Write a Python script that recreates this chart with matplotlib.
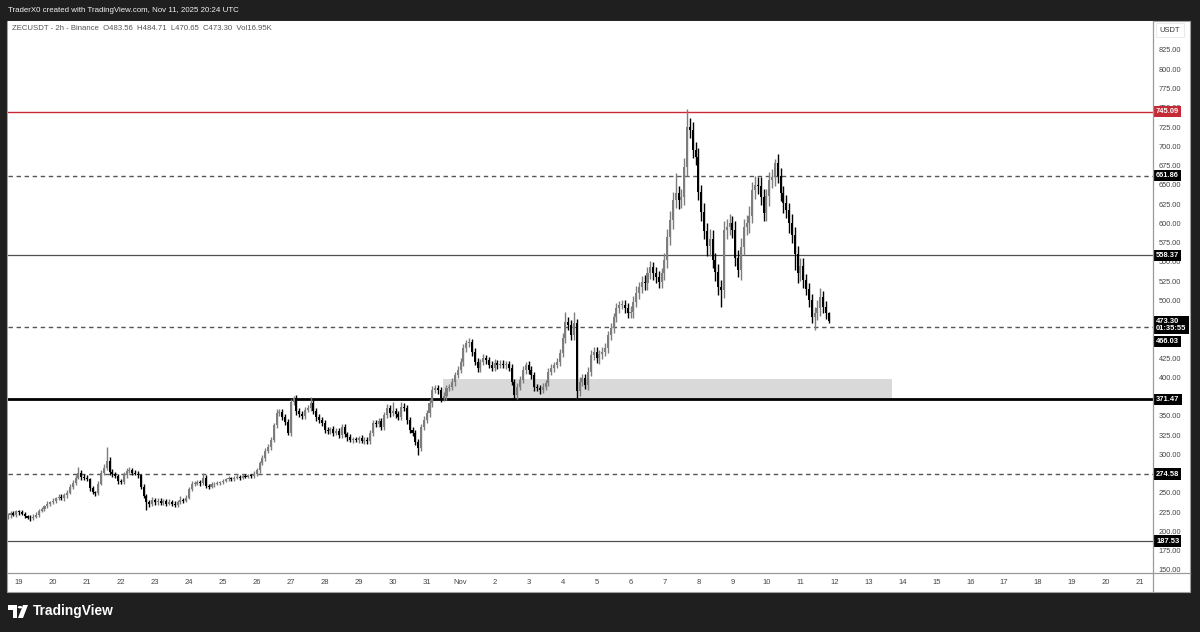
import matplotlib
matplotlib.use('Agg')
import matplotlib.pyplot as plt
import matplotlib.dates as mdates
from matplotlib.patches import Rectangle, Circle, Polygon
from matplotlib.lines import Line2D
import numpy as np
import pandas as pd
from matplotlib import font_manager

_names = {f.name for f in font_manager.fontManager.ttflist}
_fams = [f for f in ['Liberation Sans Narrow', 'Liberation Sans', 'DejaVu Sans'] if f in _names]
plt.rcParams['font.family'] = _fams
NARROW = 'Liberation Sans Narrow' in _names

# ---------------- data ----------------
symbol_line = "ZECUSDT - 2h - Binance  O483.56  H484.71  L470.65  C473.30  Vol16.95K"
header_line = "TraderX0 created with TradingView.com, Nov 11, 2025 20:24 UTC"
first_time = '2025-10-18 16:00'
first_open = 219.0

closes = [
    221, 224, 222, 226,                                             # Oct 18
    225, 223, 220, 218, 217, 219, 222, 227, 229, 233, 236, 238,     # Oct 19
    240, 243, 245, 244, 247, 250, 258, 263, 270, 276, 271, 270,     # Oct 20
    268, 256, 251, 250, 262, 276, 283, 292, 277, 274, 272, 265,     # Oct 21
    264, 273, 279, 280, 276, 275, 273, 258, 246, 238, 236, 241,     # Oct 22
    238, 240, 237, 239, 236, 238, 236, 235, 238, 241, 240, 244,     # Oct 23
    255, 262, 262, 264, 263, 270, 259, 258, 261, 262, 263, 264,     # Oct 24
    266, 268, 269, 268, 270, 271, 270, 272, 271, 273, 272, 275,     # Oct 25
    280, 289, 295, 305, 310, 319, 338, 354, 355, 349, 342, 328,     # Oct 26
    368, 373, 356, 352, 350, 358, 360, 367, 356, 348, 345, 341,     # Oct 27
    332, 330, 333, 328, 330, 325, 336, 326, 322, 319, 320, 319,     # Oct 28
    321, 318, 319, 317, 328, 341, 340, 343, 336, 351, 360, 354,     # Oct 29
    356, 352, 349, 362, 360, 345, 332, 328, 316, 308, 336, 345,     # Oct 30
    354, 367, 384, 386, 384, 373, 376, 386, 387, 394, 403, 410,     # Oct 31
    420, 438, 445, 446, 433, 420, 412, 420, 425, 423, 416, 412,     # Nov 1
    419, 416, 418, 416, 417, 412, 394, 377, 388, 397, 410, 416,     # Nov 2
    410, 403, 387, 386, 384, 388, 393, 407, 412, 416, 420, 432,     # Nov 3
    451, 472, 468, 455, 471, 382, 394, 399, 390, 407, 429, 433,     # Nov 4
    425, 430, 433, 438, 455, 464, 478, 490, 494, 494, 490, 484,     # Nov 5
    485, 498, 510, 517, 524, 522, 535, 543, 535, 530, 524, 535,     # Nov 6
    552, 582, 604, 630, 639, 630, 634, 673, 725, 721, 695, 686,     # Nov 7
    640, 615, 590, 570, 580, 552, 537, 517, 513, 591, 595, 600,     # Nov 8
    591, 555, 539, 569, 595, 600, 610, 643, 650, 648, 634, 613,     # Nov 9
    635, 656, 660, 678, 662, 639, 626, 617, 600, 585, 560, 535,     # Nov 10
    545, 526, 515, 500, 478, 483, 490, 504, 491, 483.56, 473.30,    # Nov 11
]

upper_wick = [
    3, 2, 3, 2,
    2, 3, 2, 2, 3, 4, 3, 2, 3, 2, 3, 2,
    3, 2, 3, 4, 3, 4, 3, 4, 3, 8, 4, 3,
    3, 2, 3, 2, 3, 4, 4, 18, 5, 4, 3, 3,
    3, 4, 3, 4, 3, 4, 3, 2, 3, 3, 3, 4,
    3, 3, 4, 3, 3, 4, 3, 3, 3, 5, 3, 3,
    3, 3, 4, 3, 3, 6, 3, 3, 3, 2, 3, 2,
    2, 2, 3, 2, 2, 3, 2, 2, 3, 2, 2, 3,
    3, 3, 4, 3, 4, 4, 3, 5, 4, 4, 3, 4,
    4, 3, 4, 4, 4, 4, 4, 8, 4, 4, 4, 3,
    4, 4, 3, 4, 4, 4, 4, 4, 3, 4, 3, 3,
    3, 4, 3, 3, 4, 4, 4, 4, 4, 4, 5, 4,
    12, 4, 5, 6, 5, 4, 4, 4, 4, 4, 4, 5,
    4, 5, 5, 4, 4, 4, 5, 4, 4, 5, 4, 5,
    5, 5, 4, 5, 4, 5, 5, 4, 5, 4, 4, 5,
    5, 4, 4, 5, 4, 4, 5, 4, 5, 5, 5, 4,
    5, 5, 4, 5, 4, 5, 4, 5, 5, 4, 5, 5,
    6, 13, 6, 6, 14, 5, 6, 6, 5, 6, 6, 6,
    6, 5, 7, 6, 5, 7, 6, 6, 5, 7, 6, 6,
    8, 7, 8, 7, 8, 9, 8, 8, 7, 8, 8, 7,
    10, 10, 12, 10, 26, 10, 10, 12, 23, 12, 10, 10,
    12, 10, 12, 10, 12, 11, 10, 10, 10, 12, 10, 12,
    10, 12, 10, 12, 10, 11, 12, 10, 12, 10, 12, 10,
    10, 11, 10, 6, 12, 10, 10, 11, 10, 12, 10, 10,
    10, 10, 8, 8, 8, 8, 10, 12, 8, 8, 1.15,
]

lower_wick = [
    3, 4, 2, 3,
    3, 2, 3, 2, 3, 2, 2, 3, 2, 3, 2, 3,
    2, 3, 2, 3, 4, 3, 2, 3, 3, 2, 4, 3,
    3, 4, 3, 4, 3, 2, 3, 3, 4, 3, 3, 4,
    3, 2, 3, 3, 3, 2, 3, 3, 3, 10, 4, 3,
    3, 3, 2, 3, 3, 2, 3, 3, 3, 2, 3, 2,
    2, 3, 3, 2, 4, 3, 3, 3, 2, 3, 2, 3,
    2, 2, 2, 3, 2, 2, 3, 2, 2, 2, 3, 2,
    3, 4, 3, 4, 3, 4, 3, 4, 4, 4, 4, 3,
    4, 4, 5, 4, 4, 4, 3, 4, 4, 4, 4, 4,
    4, 3, 4, 4, 3, 4, 4, 4, 4, 3, 4, 3,
    4, 3, 4, 3, 3, 4, 4, 4, 4, 4, 4, 5,
    4, 5, 4, 4, 4, 5, 4, 4, 4, 9, 4, 4,
    4, 5, 5, 4, 5, 5, 4, 5, 4, 4, 5, 4,
    4, 5, 5, 5, 5, 4, 5, 5, 4, 5, 4, 4,
    4, 5, 4, 4, 5, 4, 4, 6, 5, 4, 4, 5,
    5, 5, 5, 4, 5, 4, 5, 4, 4, 5, 4, 5,
    5, 6, 6, 6, 6, 9, 6, 5, 5, 6, 5, 6,
    6, 7, 6, 5, 6, 6, 7, 6, 6, 5, 6, 7,
    7, 8, 7, 8, 7, 8, 8, 7, 8, 7, 8, 8,
    9, 10, 10, 12, 10, 12, 10, 10, 12, 10, 10, 10,
    10, 12, 10, 12, 12, 10, 12, 10, 22, 10, 12, 10,
    10, 10, 9, 12, 10, 10, 12, 10, 12, 10, 10, 10,
    10, 12, 10, 12, 10, 10, 12, 10, 12, 10, 20, 12,
    10, 10, 8, 8, 8, 17, 8, 10, 8, 8, 2.65,
]

# horizontal levels
red_level = 745.09
dashed_levels = [661.86, 466.03, 274.58]
thin_levels = [558.37, 187.53]
thick_level = 371.47
current_price = 473.30
countdown = "01:35:55"

# demand zone
zone_start = '2025-10-31 11:30'
zone_end = '2025-11-13 16:50'
zone_low = 371.47
zone_high = 398.0

price_ticks = list(range(150, 826, 25))
hidden_price_ticks = [275, 375, 450, 475]   # fully covered by the price labels
day_ticks = pd.date_range('2025-10-19', '2025-11-21', freq='D')
day_labels = ['19', '20', '21', '22', '23', '24', '25', '26', '27', '28', '29', '30',
              '31', 'Nov', '2', '3', '4', '5', '6', '7', '8', '9', '10', '11', '12',
              '13', '14', '15', '16', '17', '18', '19', '20', '21']

# ---------------- figure ----------------
W, H = 1200, 632
fig = plt.figure(figsize=(12, 6.32), dpi=100)
fig.patch.set_facecolor('#1f1f1f')

def fx(px):
    return px / W

def fy(py):
    return 1 - py / H

k = 1.18 if NARROW else 1.0   # narrow font can be set a bit larger

# white panel
fig.add_artist(Rectangle((fx(7), fy(592)), fx(1190) - fx(7), fy(21) - fy(592),
                         transform=fig.transFigure, facecolor='white',
                         edgecolor='#a0a0a0', linewidth=0.8, zorder=0))

ax = fig.add_axes([fx(8), fy(573), fx(1153) - fx(8), fy(21) - fy(573)])
ax.set_facecolor('white')
for s in ax.spines.values():
    s.set_visible(False)

n = len(closes)
times = pd.date_range(first_time, periods=n, freq='2h')
x = mdates.date2num(times)
c = np.array(closes, dtype=float)
o = np.concatenate([[first_open], c[:-1]])
hi = np.maximum(o, c) + np.array(upper_wick, dtype=float)
lo = np.minimum(o, c) - np.array(lower_wick, dtype=float)
up = c >= o
col = np.where(up, '#7d7d7d', '#000000')

bar_w = (2 / 24) * 0.72
ax.vlines(x, lo, hi, colors=col, linewidth=1.0, zorder=3)
ax.bar(x, np.maximum(np.abs(c - o), 0.8), bottom=np.minimum(o, c), width=bar_w,
       color=col, linewidth=0, zorder=4)

# zone
zs = mdates.date2num(pd.Timestamp(zone_start))
ze = mdates.date2num(pd.Timestamp(zone_end))
ax.add_patch(Rectangle((zs, zone_low), ze - zs, zone_high - zone_low,
                       facecolor='#d9d9d9', edgecolor='none', zorder=1))

# levels
ax.axhline(red_level, color='#cc2936', linewidth=1.0, zorder=2)
for lv in dashed_levels:
    ax.axhline(lv, color='#555555', linewidth=1.0, linestyle=(0, (3.2, 2.6)), zorder=2)
for lv in thin_levels:
    ax.axhline(lv, color='#505050', linewidth=0.9, zorder=2)
ax.axhline(thick_level, color='#000000', linewidth=2.0, zorder=2)

# limits (x: pixel 8 -> 1153, y: pixel 21 -> 573)
x0 = mdates.date2num(pd.Timestamp('2025-10-19'))
ax.set_xlim(x0 - 0.324, x0 + 33.38)
ax.set_ylim(146.1, 862.6)

# axes ticks
ax.set_xticks(mdates.date2num(day_ticks))
ax.set_xticklabels(day_labels)
ax.tick_params(axis='x', length=0, pad=4, labelsize=5.5 * k, labelcolor='#444444')
ax.yaxis.tick_right()
ax.set_yticks(price_ticks)
ax.set_yticklabels(['' if p in hidden_price_ticks else f'{p:.2f}' for p in price_ticks])
ax.tick_params(axis='y', length=0, pad=4, labelsize=5.3 * k, labelcolor='#444444')

# separators
fig.add_artist(Line2D([fx(1153), fx(1153)], [fy(21), fy(592)], transform=fig.transFigure,
                      color='#9a9a9a', linewidth=0.9, zorder=5))
fig.add_artist(Line2D([fx(7), fx(1190)], [fy(573), fy(573)], transform=fig.transFigure,
                      color='#9a9a9a', linewidth=0.9, zorder=5))

# price labels on axis
def price_box(text, price, fc, dy=0):
    ax.annotate(text, xy=(1, price), xycoords=('axes fraction', 'data'),
                xytext=(2.2, dy), textcoords='offset points', ha='left', va='center',
                fontsize=5.4 * k, fontweight='bold', color='white', annotation_clip=False,
                linespacing=1.1,
                bbox=dict(boxstyle='square,pad=0.28', fc=fc, ec='none'), zorder=10)

price_box(f'{red_level:.2f}', red_level, '#c62a36')
price_box(f'{dashed_levels[0]:.2f}', dashed_levels[0], 'black')
price_box(f'{thin_levels[0]:.2f}', thin_levels[0], 'black')
price_box(f'{thick_level:.2f}', thick_level, 'black')
price_box(f'{dashed_levels[2]:.2f}', dashed_levels[2], 'black')
price_box(f'{thin_levels[1]:.2f}', thin_levels[1], 'black')
price_box(f'{current_price:.2f}\n{countdown}', current_price, 'black', dy=-3.0)
price_box(f'{dashed_levels[1]:.2f}', dashed_levels[1], 'black', dy=-10.6)

# USDT header box on price axis
fig.text(fx(1170), fy(30), 'USDT', ha='center', va='center', fontsize=5.4 * k, color='#333333',
         bbox=dict(boxstyle='square,pad=0.5', fc='white', ec='#e6e6e6', lw=0.6), zorder=6)

# texts
fig.text(fx(8), fy(10), header_line, ha='left', va='center', fontsize=5.7 * k, color='#f2f2f2')
fig.text(fx(12), fy(29), symbol_line, ha='left', va='center', fontsize=5.6 * k, color='#555555')

# TradingView logo
fig.add_artist(Polygon([(fx(8), fy(605)), (fx(17), fy(605)), (fx(17), fy(618)),
                        (fx(13), fy(618)), (fx(13), fy(609.5)), (fx(8), fy(609.5))],
                       closed=True, transform=fig.transFigure, fc='white', ec='none'))
fig.add_artist(Circle((fx(20), fy(607.2)), 2.3 / W, transform=fig.transFigure, fc='white', ec='none'))
fig.add_artist(Polygon([(fx(23), fy(605)), (fx(28), fy(605)), (fx(23), fy(618)), (fx(18), fy(618))],
                       closed=True, transform=fig.transFigure, fc='white', ec='none'))
fig.text(fx(33), fy(611.5), 'TradingView', ha='left', va='center', fontsize=9.9,
         fontweight='bold', color='white', family=['Liberation Sans', 'DejaVu Sans'])

fig.savefig('out.png', dpi=100, facecolor=fig.get_facecolor())
